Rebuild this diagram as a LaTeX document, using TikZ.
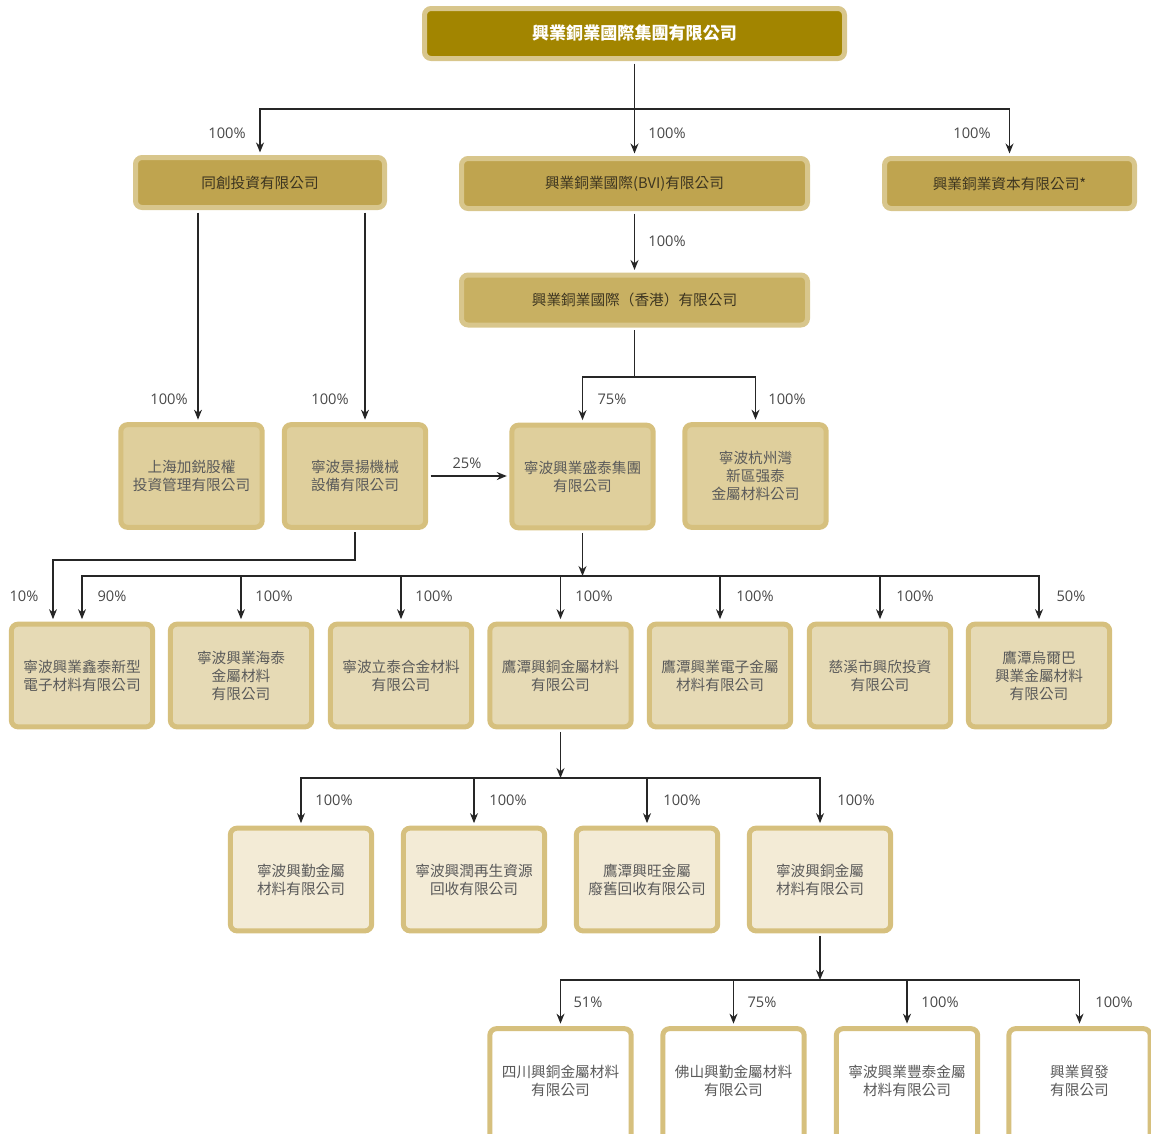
\documentclass[tikz,border=0pt]{standalone}
\usepackage{fontspec}
\setmainfont{Open Sans}
\newfontfamily\cjk{Noto Sans CJK TC}
\usetikzlibrary{arrows.meta}
\definecolor{goldA}{HTML}{A28500}
\definecolor{goldB}{HTML}{BFA44F}
\definecolor{goldC}{HTML}{C8B062}
\definecolor{goldD}{HTML}{DFCF9C}
\definecolor{goldE}{HTML}{E6DAB5}
\definecolor{goldF}{HTML}{F3EBD6}
\definecolor{edgeA}{HTML}{D8C68C}
\definecolor{edgeB}{HTML}{D6C07E}
\definecolor{inktext}{HTML}{5A5A5A}
\definecolor{darktext}{HTML}{3D3520}
\definecolor{wire}{HTML}{262626}
\tikzset{
    %Define standard arrow tip
    >={Stealth[length=7.5pt,width=6pt]},
    %Define style for boxes
    box/.style={
           draw=edgeB,
           line width=3.75pt,
           rounded corners=5pt,
           inner sep=0pt,
           align=center,
           text=inktext,
           font=\cjk\fontsize{11}{13.5}\selectfont,},
    topbox/.style={box, fill=goldA, draw=edgeA, minimum width=315pt, minimum height=37.5pt,
           text=white, font=\cjk\fontsize{12.8}{14}\bfseries\selectfont},
    midbox/.style={box, draw=edgeA, minimum height=37.5pt, text=darktext},
    subbox/.style={box, minimum width=106pt, minimum height=77pt},
    pil/.style={
           ->,
           line width=1pt,
           color=wire,
           shorten >=1.9pt,},
    lin/.style={line width=1pt, color=wire},
    pct/.style={text=inktext!80!black, font=\fontsize{11}{13}\selectfont},
}

\begin{document}
\begin{tikzpicture}[x=0.75pt, y=-0.75pt]
 \useasboundingbox (0,0) rectangle (1151,1133);
 \clip (0,0) rectangle (1151,1133);
 %nodes
 \node[topbox] (grp) at (634.5,33.5) {興業銅業國際集團有限公司};

 \node[midbox, fill=goldB, minimum width=186.75pt] (tc) at (260,182.5) {同創投資有限公司};
 \node[midbox, fill=goldB, minimum width=259.5pt] (bvi) at (634.5,183.5) {興業銅業國際(BVI)有限公司};
 \node[midbox, fill=goldB, minimum width=187.5pt] (cap) at (1009.5,183.5) {興業銅業資本有限公司*};
 \node[midbox, fill=goldC, minimum width=259.5pt] (hk) at (634.5,300) {興業銅業國際（香港）有限公司};

 \node[subbox, fill=goldD] (sh) at (191.5,476) {上海加鋭股權\\投資管理有限公司};
 \node[subbox, fill=goldD] (jy) at (355,476) {寧波景揚機械\\設備有限公司};
 \node[subbox, fill=goldD] (ss) at (582.5,476.5) {寧波興業盛泰集團\\有限公司};
 \node[subbox, fill=goldD] (hzw) at (755.5,476) {寧波杭州灣\\新區强泰\\金屬材料公司};

 \node[subbox, fill=goldE] (xt) at (82,675.5) {寧波興業鑫泰新型\\電子材料有限公司};
 \node[subbox, fill=goldE] (ht) at (241,675.5) {寧波興業海泰\\金屬材料\\有限公司};
 \node[subbox, fill=goldE] (lt) at (401,675.5) {寧波立泰合金材料\\有限公司};
 \node[subbox, fill=goldE] (yt) at (560.5,675.5) {鷹潭興銅金屬材料\\有限公司};
 \node[subbox, fill=goldE] (dz) at (720,675.5) {鷹潭興業電子金屬\\材料有限公司};
 \node[subbox, fill=goldE] (cx) at (880,675.5) {慈溪市興欣投資\\有限公司};
 \node[subbox, fill=goldE] (web) at (1039,675.5) {鷹潭烏爾巴\\興業金屬材料\\有限公司};

 \node[subbox, fill=goldF] (xq) at (301,879.5) {寧波興勤金屬\\材料有限公司};
 \node[subbox, fill=goldF] (xr) at (474,879.5) {寧波興潤再生資源\\回收有限公司};
 \node[subbox, fill=goldF] (xw) at (647,879.5) {鷹潭興旺金屬\\廢舊回收有限公司};
 \node[subbox, fill=goldF] (nbt) at (820,879.5) {寧波興銅金屬\\材料有限公司};

 \node[subbox, fill=white, minimum height=86pt] (sc) at (560.5,1086) {四川興銅金屬材料\\有限公司\\[-4.5pt]\mbox{}};
 \node[subbox, fill=white, minimum height=86pt] (fs) at (733.5,1086) {佛山興勤金屬材料\\有限公司\\[-4.5pt]\mbox{}};
 \node[subbox, fill=white, minimum height=86pt] (ft) at (907,1086) {寧波興業豐泰金屬\\材料有限公司\\[-4.5pt]\mbox{}};
 \node[subbox, fill=white, minimum height=86pt] (my) at (1079.5,1086) {興業貿發\\有限公司\\[-4.5pt]\mbox{}};

 %connectors
 \coordinate (busA) at (634.5,109);
 \draw[lin, shorten <=1.9pt] (grp) -- (busA);
 \draw[pil] (busA) -| (tc);
 \draw[pil] (busA) -- (bvi);
 \draw[pil] (busA) -| (cap);
 \draw[pil, shorten <=1.9pt] (bvi) -- (hk);

 \coordinate (busB) at (634.5,377);
 \draw[lin, shorten <=1.9pt] (hk) -- (busB);
 \draw[pil] (busB) -| (ss);
 \draw[pil] (busB) -| (hzw);

 \draw[pil, shorten <=1.9pt] (198,0 |- tc.south) -- (198,0 |- sh.north);
 \draw[pil, shorten <=1.9pt] (365,0 |- tc.south) -- (365,0 |- jy.north);
 \draw[pil, shorten <=1.9pt] (jy.east) -- (jy.east -| ss.west);

 \draw[pil, shorten <=1.9pt] (jy.south) |- (53,560) -- (53,0 |- xt.north);
 \coordinate (busC) at (582.5,576);
 \draw[pil, shorten <=1.9pt, shorten >=0pt] (ss) -- (busC);
 \foreach \n in {xt,ht,lt,yt,dz,cx,web}
   \draw[pil] (busC) -| (\n);

 \coordinate (busD) at (560.5,778);
 \draw[pil, shorten <=1.9pt, shorten >=0pt] (yt) -- (busD);
 \foreach \n in {xq,xr,xw,nbt}
   \draw[pil] (busD) -| (\n);

 \coordinate (busE) at (820,980);
 \draw[pil, shorten <=1.9pt, shorten >=0pt] (nbt) -- (busE);
 \foreach \n in {sc,fs,ft,my}
   \draw[pil] (busE) -| (\n);

 %percentages
 \node[pct] at (227,133) {100\%};
 \node[pct] at (667,133) {100\%};
 \node[pct] at (972,133) {100\%};
 \node[pct] at (667,241) {100\%};
 \node[pct] at (169,399) {100\%};
 \node[pct] at (330,399) {100\%};
 \node[pct] at (612,399) {75\%};
 \node[pct] at (787,399) {100\%};
 \node[pct] at (467,463) {25\%};
 \node[pct] at (24,596) {10\%};
 \node[pct] at (112,596) {90\%};
 \node[pct] at (274,596) {100\%};
 \node[pct] at (434,596) {100\%};
 \node[pct] at (594,596) {100\%};
 \node[pct] at (755,596) {100\%};
 \node[pct] at (915,596) {100\%};
 \node[pct] at (1071,596) {50\%};
 \node[pct] at (334,800) {100\%};
 \node[pct] at (508,800) {100\%};
 \node[pct] at (682,800) {100\%};
 \node[pct] at (856,800) {100\%};
 \node[pct] at (588,1002) {51\%};
 \node[pct] at (762,1002) {75\%};
 \node[pct] at (940,1002) {100\%};
 \node[pct] at (1114,1002) {100\%};

\end{tikzpicture}
\end{document}
